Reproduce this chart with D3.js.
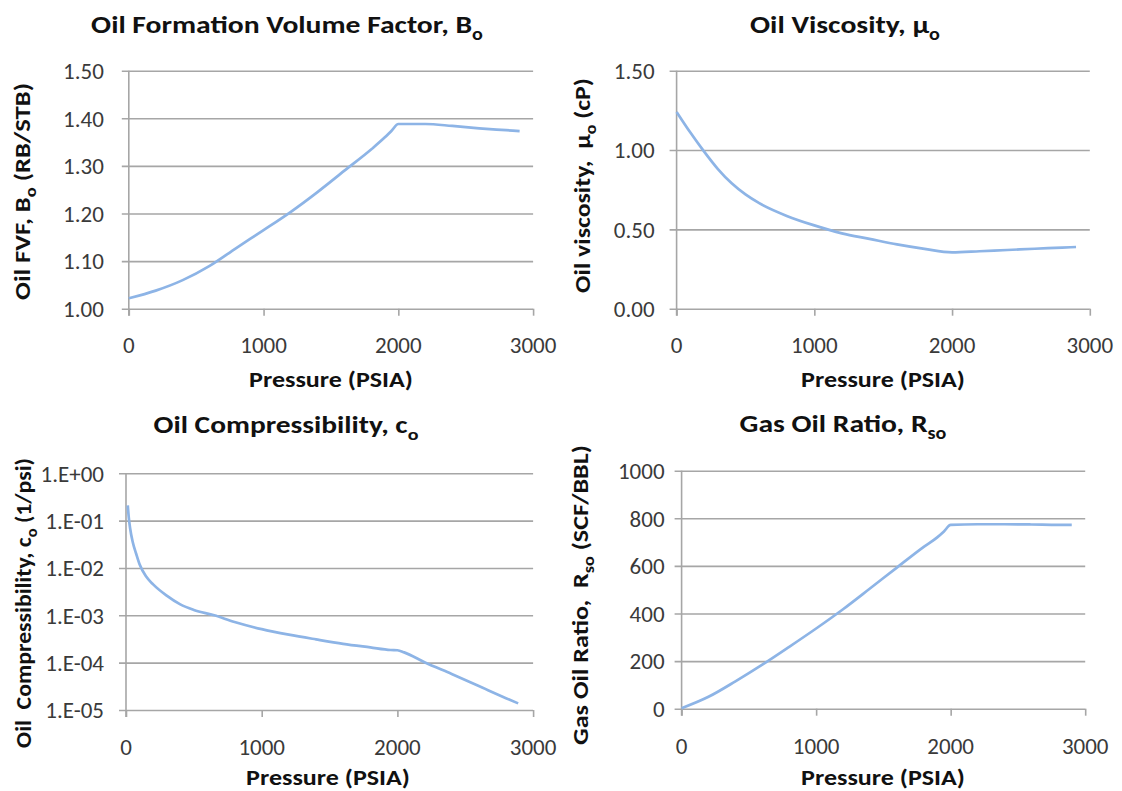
<!DOCTYPE html>
<html><head><meta charset="utf-8">
<script src="https://cdn.jsdelivr.net/npm/d3@7"></script>
<style>
body{margin:0;background:#fff;}
text{font-family:Carlito,Calibri,Lato,sans-serif;}
</style></head>
<body><svg id="c" width="1122" height="791"></svg>
<script>
// ---- data ----
const xTicks = [0, 1000, 2000, 3000];

const boPressure = [0, 200, 400, 600, 800, 1000, 1200, 1400, 1600, 1800, 1900, 1950, 2000, 2200, 2400, 2600, 2800, 2900];
const boValues   = [1.022, 1.038, 1.060, 1.090, 1.128, 1.165, 1.203, 1.245, 1.290, 1.335, 1.360, 1.374, 1.388, 1.388, 1.384, 1.379, 1.375, 1.373];
const boTicks = [1.00, 1.10, 1.20, 1.30, 1.40, 1.50];

const muPressure = [0, 100, 200, 300, 400, 500, 600, 800, 1000, 1200, 1400, 1600, 1800, 2000, 2200, 2400, 2600, 2800, 2900];
const muValues   = [1.24, 1.11, 0.99, 0.88, 0.79, 0.72, 0.665, 0.585, 0.525, 0.475, 0.44, 0.405, 0.377, 0.355, 0.362, 0.370, 0.378, 0.385, 0.389];
const muTicks = [0.00, 0.50, 1.00, 1.50];

const coPressure = [13, 20, 30, 50, 75, 100, 150, 200, 300, 400, 500, 650, 800, 1000, 1200, 1400, 1600, 1800, 1950, 2000, 2050, 2200, 2400, 2600, 2800, 2890];
const coValues   = [0.21, 0.12, 0.07, 0.035, 0.02, 0.012, 0.0065, 0.0045, 0.0026, 0.0017, 0.0013, 0.001, 0.00072, 0.00051, 0.00039, 0.00031, 0.00025, 0.00021, 0.000185, 0.000183, 0.000165, 0.000102, 0.0000575, 0.000032, 0.0000178, 0.0000138];
const coTicks = [1e-5, 1e-4, 1e-3, 1e-2, 1e-1, 1];
const coTickLabels = ["1.E-05", "1.E-04", "1.E-03", "1.E-02", "1.E-01", "1.E+00"];

const rsPressure = [0, 200, 400, 600, 800, 1000, 1200, 1400, 1600, 1800, 1900, 1950, 2000, 2200, 2400, 2600, 2800, 2900];
const rsValues   = [2, 50, 115, 185, 260, 337, 418, 505, 593, 680, 720, 745, 772, 775, 775, 774, 772, 772];
const rsTicks = [0, 200, 400, 600, 800, 1000];

// ---- drawing ----
const svg = d3.select("#c");
const LINE = "#8db4e6", GRID = "#a6a6a6";

const panels = [
  {px: boPressure, py: boValues, ticks: boTicks, fmt: d => d.toFixed(2), log: false, dom: [1.0, 1.5],
   l: 128.8, r: 533.1, t: 70.7, b: 308.7, tkOff: 25,
   title: ["Oil Formation Volume Factor, B", "o"], tx: 287, ty: 33, tw: 392,
   ylab: [["Oil FVF, B", ""], ["o", "sub"], [" (RB/STB)", ""]], ylx: 30, yly: 191.5, ylw: 217,
   xlx: 331, xly: 386.5, xtky: 353},
  {px: muPressure, py: muValues, ticks: muTicks, fmt: d => d.toFixed(2), log: false, dom: [0, 1.5],
   l: 676.6, r: 1089.8, t: 70.7, b: 308.7, tkOff: 22,
   title: ["Oil Viscosity, \u03bc", "o"], tx: 845, ty: 33, tw: 190,
   ylab: [["Oil viscosity, \u00a0\u03bc", ""], ["o", "sub"], [" (cP)", ""]], ylx: 590, yly: 185.5, ylw: 215,
   xlx: 883, xly: 386.5, xtky: 353},
  {px: coPressure, py: coValues, ticks: coTicks, fmt: (d, i) => coTickLabels[i], log: true, dom: [1e-5, 1],
   l: 126, r: 533.1, t: 473.3, b: 710, tkOff: 22,
   title: ["Oil Compressibility, c", "o"], tx: 286, ty: 433, tw: 265,
   ylab: [["Oil \u00a0Compressibility, c", ""], ["o", "sub"], [" (1/psi)", ""]], ylx: 31, yly: 603, ylw: 290,
   xlx: 328, xly: 785, xtky: 755},
  {px: rsPressure, py: rsValues, ticks: rsTicks, fmt: d => String(d), log: false, dom: [0, 1000],
   l: 681.6, r: 1085.2, t: 470.7, b: 708.7, tkOff: 17,
   title: ["Gas Oil Ratio, R", "so"], tx: 843, ty: 432, tw: 207,
   ylab: [["Gas Oil Ratio, \u00a0R", ""], ["so", "sub"], [" (SCF/BBL)", ""]], ylx: 588, yly: 595, ylw: 300,
   xlx: 883, xly: 785, xtky: 754}
];

// stretch a text node horizontally (in its own frame) so its width equals target
function fitWidth(sel, base, target) {
  const w = sel.node().getBBox().width;
  sel.attr("transform", `${base} scale(${target / w},1)`);
}

panels.forEach(p => {
  const g = svg.append("g");
  const x = d3.scaleLinear().domain([0, 3000]).range([p.l, p.r]);
  const y = (p.log ? d3.scaleLog() : d3.scaleLinear()).domain(p.dom).range([p.b, p.t]);

  const yAxis = d3.axisLeft(y).tickValues(p.ticks).tickSize(0).tickFormat(() => "");
  const ga = g.append("g").attr("transform", `translate(${p.l},0)`).call(yAxis);
  ga.select(".domain").remove();
  ga.selectAll(".tick line").attr("stroke", GRID).attr("stroke-width", 1.6)
    .attr("x1", -7).attr("x2", p.r - p.l);

  g.selectAll("text.yt").data(p.ticks).join("text")
    .attr("x", p.l - p.tkOff).attr("y", d => y(d)).attr("dy", "0.36em")
    .attr("text-anchor", "end").attr("font-size", 23).attr("fill", "#3a3a3a")
    .text((d, i) => p.fmt(d, i));

  g.append("line").attr("x1", p.l).attr("x2", p.l).attr("y1", p.t).attr("y2", p.b + 7)
    .attr("stroke", GRID).attr("stroke-width", 1.6);

  const xAxis = d3.axisBottom(x).tickValues(xTicks).tickSize(7).tickFormat("");
  const gx = g.append("g").attr("transform", `translate(0,${p.b})`).call(xAxis);
  gx.select(".domain").remove();
  gx.selectAll(".tick line").attr("stroke", GRID).attr("stroke-width", 1.6);

  g.selectAll("text.xt").data(xTicks).join("text")
    .attr("x", d => x(d)).attr("y", p.xtky)
    .attr("text-anchor", "middle").attr("font-size", 23).attr("fill", "#3a3a3a")
    .text(d => d);

  const pts = p.px.map((v, i) => [v, p.py[i]]);
  g.append("path").datum(pts)
    .attr("d", d3.line().x(d => x(d[0])).y(d => y(d[1])).curve(d3.curveMonotoneX))
    .attr("fill", "none").attr("stroke", LINE).attr("stroke-width", 2.7);

  const t = g.append("text").attr("x", 0).attr("y", 0).attr("text-anchor", "middle")
    .attr("font-size", 25).attr("font-weight", "bold").attr("fill", "#111");
  t.append("tspan").text(p.title[0]);
  t.append("tspan").attr("font-size", 17).attr("dy", 7).text(p.title[1]);
  fitWidth(t, `translate(${p.tx},${p.ty})`, p.tw);

  const xl = g.append("text").attr("x", 0).attr("y", 0).attr("text-anchor", "middle")
    .attr("font-size", 23).attr("font-weight", "bold").attr("fill", "#111").text("Pressure (PSIA)");
  fitWidth(xl, `translate(${p.xlx},${p.xly})`, 164);

  const yl = g.append("text").attr("x", 0).attr("y", 0)
    .attr("text-anchor", "middle").attr("font-size", 23).attr("font-weight", "bold").attr("fill", "#111");
  p.ylab.forEach(([s, k], i) => {
    const ts = yl.append("tspan").text(s);
    if (k === "sub") ts.attr("font-size", 16).attr("dy", 6);
    else if (i > 0) ts.attr("dy", -6);
  });
  fitWidth(yl, `translate(${p.ylx},${p.yly}) rotate(-90)`, p.ylw);
});
</script>
</body></html>
